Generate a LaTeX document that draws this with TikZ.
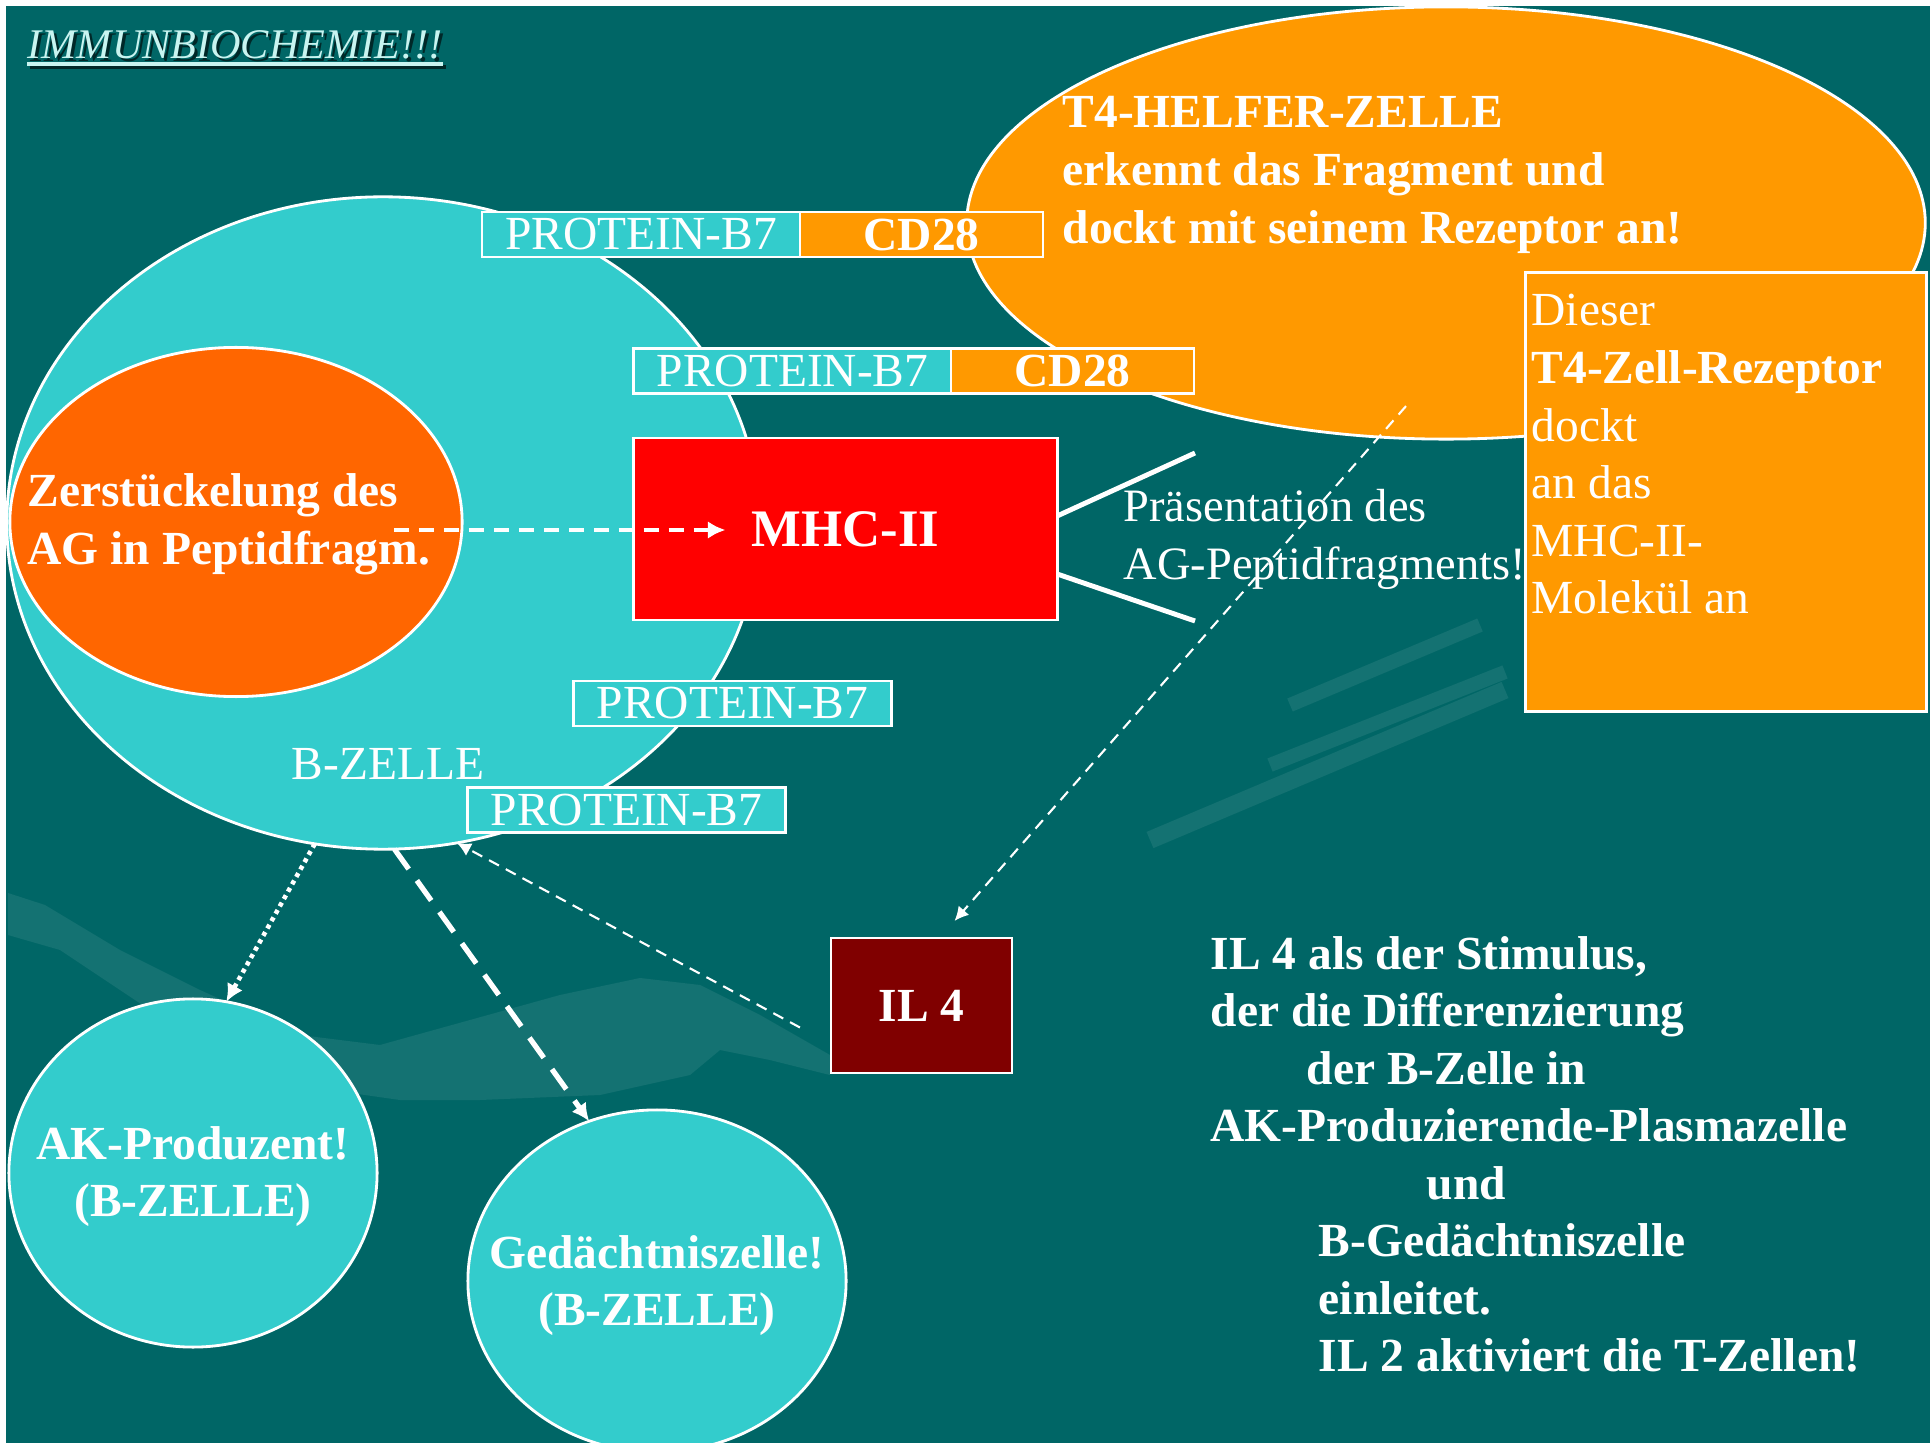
\documentclass[tikz,border=0pt]{standalone}
\usepackage{fontspec}
\setmainfont{Liberation Serif}
\usetikzlibrary{shapes.geometric,calc,arrows.meta}

\definecolor{hintergrund}{HTML}{006666}
\definecolor{zellblau}{HTML}{33CCCC}
\definecolor{fragorange}{HTML}{FF6600}
\definecolor{helferorange}{HTML}{FF9900}
\definecolor{mhcrot}{HTML}{FF0000}
\definecolor{ilrot}{HTML}{800000}
\definecolor{titelblau}{HTML}{C8F4F0}

\tikzset{
  zelle/.style={ellipse, draw=white, line width=0.8pt, inner sep=0pt, outer sep=0pt},
  kasten/.style={rectangle, draw=white, line width=0.8pt, inner sep=0pt, outer sep=0pt, text=white},
  normal/.style={font=\fontsize{13.5}{16.36}\selectfont, text=white, inner sep=0pt},
  fett/.style={font=\fontsize{13.5}{16.36}\selectfont\bfseries, text=white, inner sep=0pt},
  pfeilfrag/.style={white, line width=1.2pt, dash pattern=on 4.3pt off 2.8pt, -{Latex[length=5pt,width=5pt]}},
  pfeildunn/.style={white, line width=0.6pt, dash pattern=on 3.2pt off 2.2pt, -{Latex[length=4pt,width=4pt]}},
  pfeildick/.style={white, line width=1.5pt, dash pattern=on 7pt off 4pt, -{Latex[length=5pt,width=5pt]}},
  pfeilpunkt/.style={white, line width=1.3pt, dash pattern=on 1.2pt off 1.2pt, -{Latex[length=5pt,width=5pt]}},
  balken/.style={white, line width=1.4pt},
  schatten/.style={white, opacity=0.08},
}

\begin{document}
\begin{tikzpicture}[x=0.01cm, y=-0.01cm]
\useasboundingbox (0,0) rectangle (1930,1443);
\fill[white] (0,0) rectangle (1930,1443);
\fill[hintergrund] (6,6) rectangle (1930,1443);

% Wasserzeichen
\fill[schatten] (8,893) -- (45,905) -- (120,950) -- (200,990) -- (300,1035) -- (380,1045) -- (470,1020) -- (560,995) -- (640,978) -- (700,985) -- (760,1015) -- (830,1055) -- (830,1075) -- (770,1060) -- (720,1050) -- (690,1075) -- (600,1095) -- (480,1100) -- (400,1100) -- (330,1090) -- (250,1060) -- (150,1010) -- (60,950) -- (8,935) -- cycle;
\draw[schatten, line width=5pt] (1150,840) -- (1505,690);
\draw[schatten, line width=4pt] (1270,765) -- (1505,672);
\draw[schatten, line width=4pt] (1290,705) -- (1480,625);

% Titel
\node[font=\fontsize{12}{14}\selectfont\itshape, text=black, opacity=0.6, inner sep=0pt, anchor=base west] (titelschatten) at (30,62) {IMMUNBIOCHEMIE!!!};
\node[font=\fontsize{12}{14}\selectfont\itshape, text=titelblau, inner sep=0pt, anchor=base west] (titel) at (27,59) {IMMUNBIOCHEMIE!!!};
\draw[black, opacity=0.6, line width=0.9pt] ($(titelschatten.base west)+(0,5)$) -- ($(titelschatten.base east)+(0,5)$);
\draw[titelblau, line width=0.9pt] ($(titel.base west)+(0,5)$) -- ($(titel.base east)+(0,5)$);

% B-Zelle
\node[zelle, fill=zellblau, minimum width=7.52cm, minimum height=6.52cm] (bzelle) at (383,523) {};
\node[zelle, fill=fragorange, minimum width=4.52cm, minimum height=3.49cm] (frag) at (236,522) {};
\node[fett, anchor=base west] (fragtext) at (27,507) {\parbox[t]{5cm}{\raggedright Zerstückelung des\\AG in Peptidfragm.}};
\node[normal, anchor=base west] (bzelletext) at (291,780) {B-ZELLE};

% T4-Helferzelle
\node[zelle, fill=helferorange, minimum width=9.58cm, minimum height=4.32cm] (helfer) at (1446,223) {};
\node[fett, anchor=base west] (helfertext) at (1062,128) {\parbox[t]{8cm}{\raggedright T4-HELFER-ZELLE\\erkennt das Fragment und\\dockt mit seinem Rezeptor an!}};
\node[kasten, fill=helferorange, minimum width=4cm, minimum height=4.38cm] (rezeptor) at (1726,492) {};
\node[normal, anchor=base west] (rezeptortext) at (1531,326) {\parbox[t]{3.9cm}{\raggedright Dieser\\\textbf{T4-Zell-Rezeptor}\\dockt\\an das\\MHC-II-\\Molekül an}};

% Protein-B7 und CD28
\node[kasten, normal, fill=zellblau, minimum width=3.18cm, minimum height=0.45cm] (protein1) at (641,234.5) {PROTEIN-B7};
\node[kasten, fett, fill=helferorange, minimum width=2.43cm, minimum height=0.45cm] (cd1) at (921.5,234.5) {CD28};
\node[kasten, normal, fill=zellblau, minimum width=3.18cm, minimum height=0.45cm] (protein2) at (792.5,371) {PROTEIN-B7};
\node[kasten, fett, fill=helferorange, minimum width=2.43cm, minimum height=0.45cm] (cd2) at (1072.5,371) {CD28};
\node[kasten, normal, fill=zellblau, minimum width=3.18cm, minimum height=0.45cm] (protein3) at (732.5,703.5) {PROTEIN-B7};
\node[kasten, normal, fill=zellblau, minimum width=3.18cm, minimum height=0.45cm] (protein4) at (626.5,810) {PROTEIN-B7};

% MHC-II
\node[kasten, fill=mhcrot, font=\fontsize{15}{18}\selectfont\bfseries, minimum width=4.23cm, minimum height=1.82cm] (mhc) at (845.5,529) {MHC-II};
\coordinate (praes1) at (1195,453);
\coordinate (praes2) at (1195,621);
\draw[balken] ($(mhc.east)+(0,-13)$) -- (praes1);
\draw[balken] ($(mhc.east)+(0,45)$) -- (praes2);
\node[normal, font=\fontsize{13.2}{16.36}\selectfont, anchor=base west] (praestext) at (1123,522) {\parbox[t]{5cm}{\raggedright Präsentation des\\AG-Peptidfragments!}};

% IL 4
\node[kasten, fett, fill=ilrot, minimum width=1.81cm, minimum height=1.35cm] (il4) at (921.5,1005.5) {IL 4};

% Tochterzellen
\node[zelle, fill=zellblau, minimum width=3.68cm, minimum height=3.48cm] (ak) at (193,1173) {};
\node[fett, anchor=base] (aktext) at (193,1159) {\parbox[t]{4cm}{\centering AK-Produzent!\\(B-ZELLE)}};
\node[zelle, fill=zellblau, minimum width=3.78cm, minimum height=3.42cm] (gedaechtnis) at (657,1281) {};
\node[fett, anchor=base] (gedtext) at (657,1268) {\parbox[t]{4cm}{\centering Gedächtniszelle!\\(B-ZELLE)}};

\node[fett, anchor=base west] (erklaerung) at (1210,969) {\parbox[t]{8cm}{\raggedright IL 4 als der Stimulus,\\der die Differenzierung\\\hspace*{0.96cm}der B-Zelle in\\AK-Produzierende-Plasmazelle\\\hspace*{2.16cm}und\\\hspace*{1.08cm}B-Gedächtniszelle\\\hspace*{1.08cm}einleitet.\\\hspace*{1.08cm}IL 2 aktiviert die T-Zellen!}};

% Pfeile
\draw[pfeilfrag] ($(frag.center)+(158,8)$) -- ($(mhc.center)+(-120,1)$);
\draw[pfeildunn] ($(helfer.south)+(-40,-33)$) -- ($(il4.north)+(33,-17)$);
\draw[pfeildunn] ($(il4.west)+(-31,22)$) -- (bzelle.-77);
\draw[pfeilpunkt] (bzelle.-102) -- (ak.79);
\draw[pfeildick] (bzelle.-88) -- (gedaechtnis.113);
\end{tikzpicture}
\end{document}
